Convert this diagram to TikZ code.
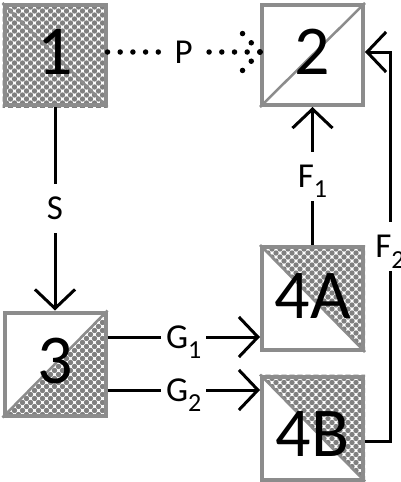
\documentclass[tikz,border=0pt]{standalone}
\usepackage{fontspec}
\setmainfont{Carlito}
\usetikzlibrary{arrows.meta,backgrounds,calc}
\definecolor{boxgray}{HTML}{8C8C8C}
\definecolor{dotgray}{HTML}{808080}
\newcommand{\sbs}[1]{\raisebox{-0.3em}[0pt][0pt]{\fontsize{26}{26}\selectfont #1}}
\newcommand{\hatchdots}[1]{%
  \foreach \i in {0,...,13}{\foreach \j in {0,...,13}{%
    \fill[dotgray] ([shift={(8*\i,8*\j)}]#1.north west) circle[radius=2.7pt];
    \fill[dotgray] ([shift={(8*\i+4,8*\j+4)}]#1.north west) circle[radius=2.7pt];
  }}}
\begin{document}
\begin{tikzpicture}[x=1pt,y=-1pt,
  box/.style={draw=boxgray,line width=4pt,minimum width=101pt,minimum height=100pt,inner sep=0pt,font=\fontsize{70}{70}\selectfont},
  tallbox/.style={box,minimum height=103pt},
  diag/.style={draw=boxgray,line width=2.5pt},
  conn/.style={line width=3pt,draw=black},
  arr/.style={conn,-{Straight Barb[length=19pt,width=40pt]}},
  lbl/.style={fill=white,inner xsep=5pt,inner ysep=0pt,minimum height=49pt,font=\fontsize{35}{35}\selectfont},
  dotline/.style={line width=5.5pt,line cap=round,dash pattern=on 0pt off 12.7pt}
]
\useasboundingbox (0,0) rectangle (400,482);
\node[box] (n1) at (55,55) {\raisebox{3pt}[\height][\depth]{1}};
\node[box] (n2) at (312.5,55) {\raisebox{3pt}[\height][\depth]{2}};
\node[tallbox] (n3) at (55,364) {\raisebox{3pt}[\height][\depth]{3}};
\node[tallbox] (n4a) at (312.5,298.5) {\raisebox{2pt}[\height][\depth]{4A}};
\node[tallbox] (n4b) at (312.5,428) {\raisebox{-6pt}[\height][\depth]{4B}};
\begin{scope}[on background layer]
  \begin{scope}
    \clip (n1.north west) rectangle (n1.south east);
    \hatchdots{n1}
  \end{scope}
  \begin{scope}
    \clip (n3.south west) -- (n3.north east) -- (n3.south east) -- cycle;
    \hatchdots{n3}
  \end{scope}
  \begin{scope}
    \clip (n4a.north west) -- (n4a.north east) -- (n4a.south east) -- cycle;
    \hatchdots{n4a}
  \end{scope}
  \begin{scope}
    \clip (n4b.north west) -- (n4b.north east) -- (n4b.south east) -- cycle;
    \hatchdots{n4b}
  \end{scope}
  \draw[diag] (n1.north west) -- (n1.south east);
  \draw[diag] (n2.south west) -- (n2.north east);
  \draw[diag] (n3.south west) -- (n3.north east);
  \draw[diag] (n4a.north west) -- (n4a.south east);
  \draw[diag] (n4b.north west) -- (n4b.south east);
\end{scope}
\coordinate (p1e) at ([yshift=3pt]n1.east);
\coordinate (p2w) at ([yshift=3pt]n2.west);
\coordinate (p2e) at ([yshift=3pt]n2.east);
\coordinate (g1s) at ([yshift=27pt]n3.east);
\coordinate (g2s) at ([yshift=-26pt]n3.east);
\coordinate (f2s) at ([yshift=-13pt]n4b.east);
\draw[dotline] (p1e) -- node[lbl,inner xsep=10pt]{P} (p2w);
\draw[dotline] (p2w) -- ++(-18,-19);
\draw[dotline] (p2w) -- ++(-18,19);
\draw[arr] (n1.south) -- node[lbl]{S} (n3.north);
\draw[arr] (g1s) -- node[lbl]{G\sbs{1}} (g1s -| n4a.west);
\draw[arr] (g2s) -- node[lbl]{G\sbs{2}} (g2s -| n4b.west);
\draw[arr] (n4a.north) -- node[lbl]{F\sbs{1}} (n2.south);
\draw[arr] (f2s) -- ++(25,0) coordinate (c1) -- node[lbl]{F\sbs{2}} (c1 |- p2e) -- (p2e);
\end{tikzpicture}
\end{document}
